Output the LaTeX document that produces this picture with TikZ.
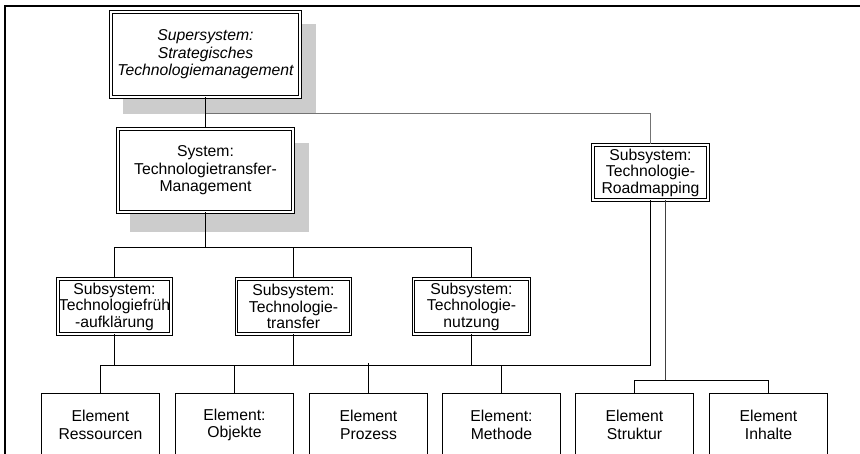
\documentclass[tikz,border=0pt]{standalone}
\usepackage{fontspec}
\setmainfont{Liberation Sans}
\begin{document}
\begin{tikzpicture}[x=1bp,y=-1bp,
  txt/.style={font=\fontsize{15.8}{17.5}\selectfont, align=center, inner sep=0pt},
  dbox/.style={txt, rectangle, draw=black, line width=1bp, double=white,
    double distance=1.9bp, fill=white},
  ebox/.style={txt, rectangle, draw=black, line width=1bp, fill=white,
    minimum width=118bp, minimum height=62bp},
  shade/.style={fill=black!20, draw=none},
  conn/.style={line width=1bp, black},
  greyconn/.style={line width=1bp, black!55},
  frameline/.style={line width=2bp, black}]
\useasboundingbox (0,0) rectangle (860,454);
\clip (0,0) rectangle (860,454);

% frame
\draw[frameline] (5,470) -- (5,6) -- (870,6);

% drop shadows of the two upper boxes
\fill[shade] (123,24) rectangle (316,114);
\fill[shade] (130,143) rectangle (309,232);

% system boxes
\node[dbox, minimum width=189bp, minimum height=85bp] (super) at (205.5,54.5)
  {\itshape Supersystem:\\ \itshape Strategisches\\ \itshape Technologiemanagement};
\node[dbox, minimum width=175bp, minimum height=83bp] (sys) at (205.5,170.5)
  {System:\\ Technologietransfer-\\ Management};
\node[dbox, font=\fontsize{15.8}{16.5}\selectfont, minimum width=115bp, minimum height=55bp] (road) at (650.5,172.5)
  {Subsystem:\\ Technologie-\\ Roadmapping};
\node[dbox, font=\fontsize{15.8}{16.5}\selectfont, minimum width=113bp, minimum height=55bp] (sub1) at (114.5,306.5)
  {Subsystem:\\ Technologiefrüh\\ -aufklärung};
\node[dbox, font=\fontsize{15.8}{16.5}\selectfont, minimum width=114bp, minimum height=55bp] (sub2) at (293.5,306.5)
  {Subsystem:\\ Technologie-\\ transfer};
\node[dbox, font=\fontsize{15.8}{16.5}\selectfont, minimum width=116bp, minimum height=55bp] (sub3) at (471.5,306.5)
  {Subsystem:\\ Technologie-\\ nutzung};

% element boxes
\node[ebox] (e1) at (100.5,425) {Element\\ Ressourcen};
\node[ebox] (e2) at (234.5,425) {Element:\\ Objekte};
\node[ebox] (e3) at (368.5,425) {Element\\ Prozess};
\node[ebox] (e4) at (501.5,425) {Element:\\ Methode};
\node[ebox] (e5) at (634.5,425) {Element\\ Struktur};
\node[ebox] (e6) at (768.5,425) {Element\\ Inhalte};

% bus levels
\coordinate (Ltop) at (0,113.5);
\coordinate (L1) at (0,247.5);
\coordinate (L2) at (0,365.5);
\coordinate (L3) at (0,380.5);
\coordinate (rleg) at ([xshift=15bp]road.south);

% connectors
\draw[conn] (super.south) -- (super.south |- sys.north);
\draw[greyconn] (super.south |- Ltop) -| (road.north);

\draw[conn] (sys.south) -- (sys.south |- L1);
\draw[conn] (sub1.north) |- (sub1.north |- L1) -| (sub3.north);
\draw[conn] (sub2.north) -- (sub2.north |- L1);

\draw[conn] (sub1.south) -- (sub1.south |- L2);
\draw[conn] (sub2.south) -- (sub2.south |- L2);
\draw[conn] (sub3.south) -- (sub3.south |- L2);
\draw[conn] (e1.north) -- (e1.north |- L2) -| (road.south);
\draw[conn] (e2.north) -- (e2.north |- L2);
\draw[conn] (e3.north) -- ([yshift=2bp]e3.north |- L2);
\draw[conn] (e4.north) -- (e4.north |- L2);

\draw[conn, black!75] (rleg) -- (rleg |- L3);
\draw[conn] (e5.north) |- (rleg |- L3) -| (e6.north);
\end{tikzpicture}
\end{document}
